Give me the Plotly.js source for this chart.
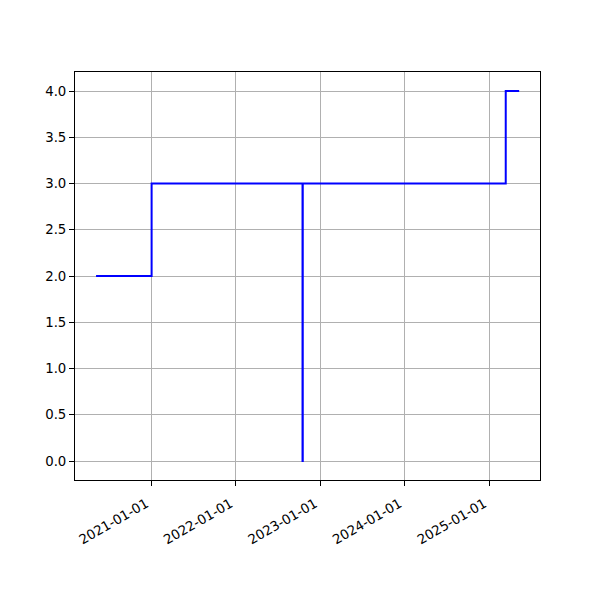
<!DOCTYPE html>
<html>
<head>
<meta charset="utf-8">
<script src="https://cdn.plot.ly/plotly-3.0.1.min.js"></script>
<style>html,body{margin:0;padding:0;background:#fff;}#chart{width:600px;height:600px;}</style>
</head>
<body>
<div id="chart"></div>
<script>
const dates = ["2020-05-08", "2021-01-03", "2022-10-17", "2022-10-18", "2025-03-13", "2025-05-10"];
const values = [2, 3, 0, 3, 4, 4];
const yTicks = [0, 0.5, 1, 1.5, 2, 2.5, 3, 3.5, 4];
const xTicks = ["2021-01-01", "2022-01-01", "2023-01-01", "2024-01-01", "2025-01-01"];

const trace = {
  x: dates, y: values, type: "scatter", mode: "lines",
  line: {shape: "hv", color: "#0000ff", width: 2}
};
const axisCommon = {
  showline: true, linecolor: "#000", linewidth: 1, mirror: true,
  ticks: "outside", ticklen: 5, tickwidth: 1, tickcolor: "#000",
  showgrid: true, gridcolor: "#b0b0b0", gridwidth: 1, zeroline: false,
  tickfont: {family: "DejaVu Sans", size: 13.3, color: "#000"}
};
const layout = {
  width: 600, height: 600,
  margin: {l: 75, r: 60, t: 72, b: 120},
  paper_bgcolor: "#fff", plot_bgcolor: "#fff",
  showlegend: false,
  xaxis: Object.assign({}, axisCommon, {
    type: "date", range: ["2020-02-07", "2025-08-08"],
    tickmode: "array", tickvals: xTicks, ticktext: xTicks, tickangle: -30,
    ticklabelshift: -5, ticklabelstandoff: 5
  }),
  yaxis: Object.assign({}, axisCommon, {
    range: [-0.2054, 4.2054], tickmode: "array", tickvals: yTicks,
    ticktext: yTicks.map(v => v.toFixed(1))
  })
};
Plotly.newPlot("chart", [trace], layout, {displayModeBar: false, staticPlot: true});
</script>
</body>
</html>
